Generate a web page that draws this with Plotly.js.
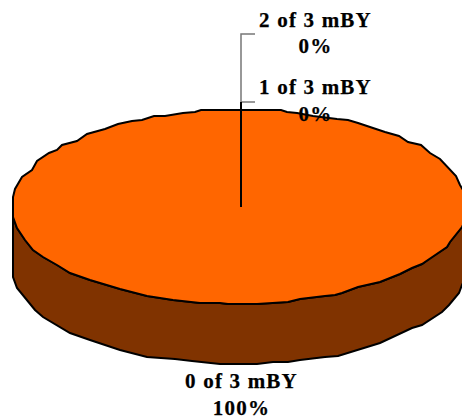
<!DOCTYPE html>
<html><head><meta charset="utf-8">
<script src="https://cdn.plot.ly/plotly-3.0.1.min.js"></script>
<style>html,body{margin:0;padding:0;background:#fff;overflow:hidden}
.textpoint text{letter-spacing:1.2px;stroke:#000;stroke-width:.25px}</style>
</head><body><div id="chart" style="width:462px;height:419px"></div>
<script>
const categories = ["0 of 3 mBY", "1 of 3 mBY", "2 of 3 mBY"];
const percents = [100, 0, 0];
const labelX = [241.5, 315.5, 315.5];
const labelY1 = [383, 89, 22];
const labelY2 = [410, 116, 48];

const topEdgeX = [13,13,15,22,32,37,49,57,62,77,87,105,118,132,142,154,165,183,195,201,281,287,297,313,337,348,358,372,385,399,408,421,430,440,448,456,460,466,469];
const topEdgeY = [217,197,189,177,170,161,153,150,145,141,134,129,124,121,120,116,116,113,112,110,110,112,113,116,119,120,123,128,132,136,142,145,153,159,168,176,185,195,207];
const frontEdgeX = [469,462,450,447,430,422,412,400,380,358,342,335,325,300,288,270,257,228,220,200,173,147,120,90,70,57,43,33,25,17,13];
const frontEdgeY = [213,227,242,247,258,264,268,274,282,287,293,295,296,299,302,303,304,304,303,303,300,296,289,280,273,265,257,250,240,228,217];
const baseEdgeX = [13,13,17,25,35,43,70,90,120,147,163,175,192,220,257,273,288,300,325,338,380,412,422,430,442,449,459,462,469];
const baseEdgeY = [217,277,288,298,310,317,333,340,350,357,358,359,361,364,364,362,362,360,357,356,343,328,325,320,312,305,293,285,270];

const leaderX = [[255,241,241],[255,241]];
const leaderY = [[34,34,102],[102,102]];
const radiusX = [241,241];
const radiusY = [207,102];

const sideX = baseEdgeX.concat([469]).concat(frontEdgeX);
const sideY = baseEdgeY.concat([213]).concat(frontEdgeY);
const capX = topEdgeX.concat(frontEdgeX);
const capY = topEdgeY.concat(frontEdgeY);

const pctText = percents.map(p=>p+"%");
const labelFont = {family:"Liberation Serif, Times New Roman, serif", size:21, color:"#000", weight:700};

const traces = [
  {x:sideX,y:sideY,mode:"lines",fill:"toself",fillcolor:"#803300",line:{color:"#000",width:2}},
  {x:capX,y:capY,mode:"lines",fill:"toself",fillcolor:"#ff6600",line:{color:"#000",width:2}},
  {x:leaderX[0],y:leaderY[0],mode:"lines",line:{color:"#777",width:1.5}},
  {x:leaderX[1],y:leaderY[1],mode:"lines",line:{color:"#777",width:1.5}},
  {x:radiusX,y:radiusY,mode:"lines",line:{color:"#000",width:2}},
  {x:labelX,y:labelY1,mode:"text",text:categories,textposition:"middle center",textfont:labelFont,cliponaxis:false},
  {x:labelX,y:labelY2,mode:"text",text:pctText,textposition:"middle center",textfont:labelFont,cliponaxis:false}
];
const hiddenAxis = {visible:false,fixedrange:true,showgrid:false,zeroline:false};
Plotly.newPlot("chart",traces,{
  width:462,height:419,showlegend:false,
  margin:{l:0,r:0,t:0,b:0},paper_bgcolor:"#fff",plot_bgcolor:"#fff",
  xaxis:Object.assign({range:[0,462]},hiddenAxis),
  yaxis:Object.assign({range:[419,0]},hiddenAxis),
  hovermode:false
},{displayModeBar:false,staticPlot:true});
</script></body></html>
